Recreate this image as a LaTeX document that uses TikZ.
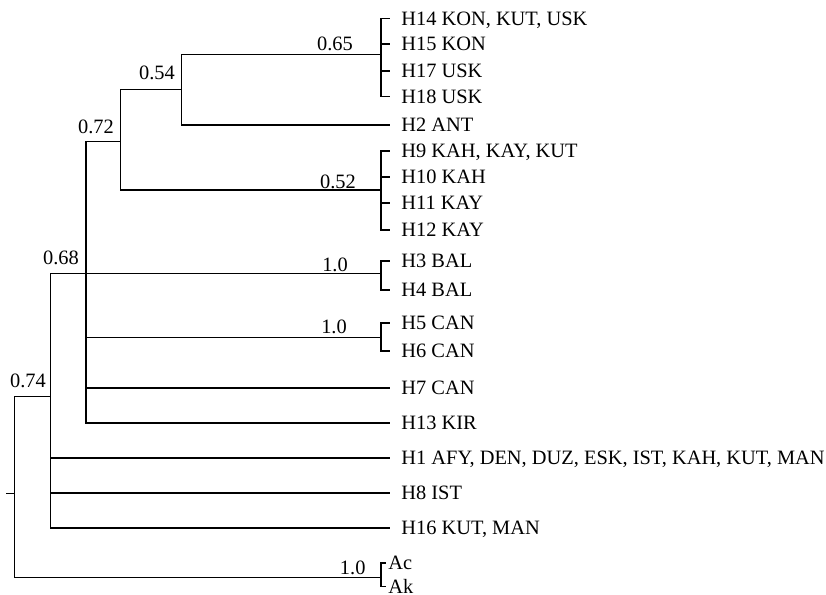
\documentclass[tikz,border=0pt]{standalone}
\usepackage{fontspec}
\setmainfont{Liberation Serif}
\usepackage{tikz}
\usetikzlibrary{
  calc,%
  positioning
}
\tikzset{>=latex}
\tikzset{font=\fontsize{10.2}{12}\selectfont}
\tikzset{leaf/.style={anchor=west, inner xsep=5.5pt, inner ysep=0pt,
    text height=6.7pt, text depth=0pt},
  outleaf/.style={leaf, inner xsep=1pt},
  boot/.style={inner sep=0pt, text height=6.7pt, text depth=0pt},
  branch/.style={line width=0.65pt}}

\begin{document}
\begin{tikzpicture}[x=0.5pt, y=-0.5pt]
  \useasboundingbox (0,0) rectangle (826,595);
  % leaves
  \node[leaf] (h14) at (390,18.3) {H14 KON, KUT, USK};
  \node[leaf] (h15) at (390,44) {H15 KON};
  \node[leaf] (h17) at (390,71) {H17 USK};
  \node[leaf] (h18) at (390,96.7) {H18 USK};
  \node[leaf] (h2) at (390,125) {H2 ANT};
  \node[leaf] (h9) at (390,151) {H9 KAH, KAY, KUT};
  \node[leaf] (h10) at (390,177) {H10 KAH};
  \node[leaf] (h11) at (390,203) {H11 KAY};
  \node[leaf] (h12) at (390,230) {H12 KAY};
  \node[leaf] (h3) at (390,261) {H3 BAL};
  \node[leaf] (h4) at (390,290) {H4 BAL};
  \node[leaf] (h5) at (390,323) {H5 CAN};
  \node[leaf] (h6) at (390,351) {H6 CAN};
  \node[leaf] (h7) at (390,388) {H7 CAN};
  \node[leaf] (h13) at (390,423) {H13 KIR};
  \node[leaf] (h1) at (390,458) {H1 AFY, DEN, DUZ, ESK, IST, KAH, KUT, MAN};
  \node[leaf] (h8) at (390,493) {H8 IST};
  \node[leaf] (h16) at (390,528) {H16 KUT, MAN};
  \node[outleaf] (ac) at (386,563) {Ac};
  \node[outleaf] (ak) at (386,586.5) {Ak};
  % inner nodes
  \coordinate (c65) at (381,54.3);
  \coordinate (n54) at (181.7,89.3);
  \coordinate (n72) at (120.7,141.7);
  \coordinate (c52) at (381,190);
  \coordinate (n68) at (86,273.3);
  \coordinate (c34) at (381,273.3);
  \coordinate (c56) at (381,337.3);
  \coordinate (n74) at (50.7,396.7);
  \coordinate (root) at (14.7,493.3);
  \coordinate (stub) at (6,493.3);
  \coordinate (cout) at (381,577.5);
  % branches
  \begin{scope}[branch]
    \foreach \l in {h14,h15,h17,h18} \draw (c65) |- (\l.west);
    \foreach \l in {h9,h10,h11,h12} \draw (c52) |- (\l.west);
    \foreach \l in {h3,h4} \draw (c34) |- (\l.west);
    \foreach \l in {h5,h6} \draw (c56) |- (\l.west);
    \draw (cout) |- (ac.west);
    \draw (cout) |- (ak.west);
    \draw (n54) |- (c65);
    \draw (n54) |- (h2.west);
    \draw (n72) |- (n54);
    \draw (n72) |- (c52);
    \draw (n68) |- (n72);
    \draw (n68) -- (c34);
    \draw (n68) |- (c56);
    \draw (n68) |- (h7.west);
    \draw (n68) |- (h13.west);
    \draw (n74) |- (n68);
    \foreach \l in {h1,h8,h16} \draw (n74) |- (\l.west);
    \draw (root) |- (n74);
    \draw (root) |- (cout);
    \draw (stub) -- (root);
  \end{scope}
  % support values
  \node[boot] (b65) at (335,44) {0.65};
  \node[boot] (b54) at (157,73) {0.54};
  \node[boot] (b72) at (96,127) {0.72};
  \node[boot] (b52) at (338,182) {0.52};
  \node[boot] (b68) at (61,257.3) {0.68};
  \node[boot] (b34) at (335,264.3) {1.0};
  \node[boot] (b56) at (334,326.7) {1.0};
  \node[boot] (b74) at (28,381) {0.74};
  \node[boot] (bout) at (352.7,567.7) {1.0};
\end{tikzpicture}
\end{document}
